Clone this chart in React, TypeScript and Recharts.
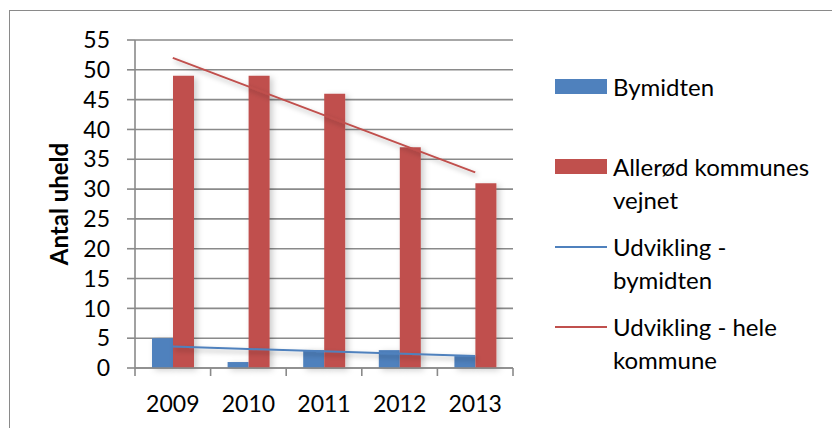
import { ComposedChart, Bar, Line, XAxis, YAxis, CartesianGrid, Legend } from 'recharts';

const years = ['2009', '2010', '2011', '2012', '2013'];
const bymidten = [5, 1, 3, 3, 2];
const vejnet = [49, 49, 46, 37, 31];
// trend lines: only the end points, drawn straight across with connectNulls
const trendBymidten = [3.6, null, null, null, 2.0];
const trendKommune = [52.0, null, null, null, 32.8];
const yTicks = [0, 5, 10, 15, 20, 25, 30, 35, 40, 45, 50, 55];

const BLUE = '#4f81bd';
const RED = '#c0504d';
const GRID = '#8a8a8a';
const FONT = 'Lato, "Open Sans", sans-serif';

const data = years.map((year, i) => ({
    year,
    bymidten: bymidten[i],
    vejnet: vejnet[i],
    trendBymidten: trendBymidten[i],
    trendKommune: trendKommune[i],
}));

const seriesOrder = ['bymidten', 'vejnet', 'trendBymidten', 'trendKommune'];

// year label under each category, with the tick marks on the category edges
const YearTick = (props: any) => {
    const { x, y, payload, index } = props;
    const half = payload?.offset ?? 37.8;
    return (
        <g>
            <line x1={x - half} x2={x - half} y1={y - 8} y2={y} stroke={GRID} strokeWidth={1.6} />
            {index === years.length - 1 && (
                <line x1={x + half} x2={x + half} y1={y - 8} y2={y} stroke={GRID} strokeWidth={1.6} />
            )}
            <text x={x} y={y + 36} textAnchor="middle" fontSize={23} fill="#000" fontFamily={FONT}>
                {payload.value}
            </text>
        </g>
    );
};

const LegendList = ({ payload }: any) => {
    const items = [...(payload ?? [])].sort(
        (a: any, b: any) => seriesOrder.indexOf(a.dataKey) - seriesOrder.indexOf(b.dataKey)
    );
    return (
        <div style={{ fontFamily: FONT, fontSize: 24, color: '#000' }}>
            {items.map((item: any) => (
                <div key={item.dataKey} style={{ display: 'flex', alignItems: 'flex-start', height: 80 }}>
                    <div style={{ width: 52, height: 33, display: 'flex', alignItems: 'center', marginRight: 6 }}>
                        {item.type === 'line' ? (
                            <div style={{ width: 52, height: 2, background: item.color }} />
                        ) : (
                            <div style={{ width: 52, height: 15, background: item.color }} />
                        )}
                    </div>
                    <div style={{ width: 204, lineHeight: '33px' }}>{item.value}</div>
                </div>
            ))}
        </div>
    );
};

export default function App() {
    return (
        <div style={{ position: 'absolute', left: 0, top: 0, width: 832, height: 428, overflow: 'hidden', background: '#fff' }}>
            {/* chart frame, only top and left edges fall inside the view */}
            <div
                style={{
                    position: 'absolute',
                    left: 9,
                    top: 10,
                    width: 840,
                    height: 440,
                    borderTop: `1.5px solid ${GRID}`,
                    borderLeft: `1.5px solid ${GRID}`,
                }}
            />
            <ComposedChart
                width={832}
                height={428}
                data={data}
                margin={{ top: 40, right: 319, bottom: 0, left: 0 }}
                barGap={0}
                barSize={21}
                style={{ position: 'absolute', left: 0, top: 0 }}
            >
                <defs>
                    <filter id="shade" filterUnits="userSpaceOnUse" x={0} y={0} width={832} height={428}>
                        <feDropShadow dx={2} dy={3} stdDeviation={2.5} floodColor="#000" floodOpacity={0.3} />
                    </filter>
                    <filter id="barShade" filterUnits="userSpaceOnUse" x={0} y={0} width={832} height={428}>
                        <feDropShadow dx={3} dy={2} stdDeviation={3} floodColor="#000" floodOpacity={0.2} />
                    </filter>
                </defs>
                <CartesianGrid vertical={false} stroke={GRID} strokeWidth={1.6} />
                <XAxis
                    dataKey="year"
                    height={60}
                    tickLine={false}
                    tickSize={8}
                    tickMargin={0}
                    axisLine={{ stroke: GRID, strokeWidth: 1.6 }}
                    tick={<YearTick />}
                    interval={0}
                />
                <YAxis
                    width={135}
                    domain={[0, 55]}
                    ticks={yTicks}
                    interval={0}
                    tickSize={8}
                    tickMargin={17}
                    axisLine={{ stroke: GRID, strokeWidth: 1.6 }}
                    tickLine={{ stroke: GRID, strokeWidth: 1.6 }}
                    tick={{ fill: '#000', fontSize: 23, fontFamily: FONT }}
                    label={{
                        value: 'Antal uheld',
                        angle: -90,
                        position: 'center',
                        dx: -8,
                        style: { fontWeight: 700, fontSize: 24, fill: '#000', fontFamily: FONT },
                    }}
                />
                <Bar dataKey="bymidten" name="Bymidten" fill={BLUE} filter="url(#barShade)" isAnimationActive={false} />
                <Bar dataKey="vejnet" name="Allerød kommunes vejnet" fill={RED} filter="url(#barShade)" isAnimationActive={false} />
                <Line
                    dataKey="trendBymidten"
                    name="Udvikling - bymidten"
                    stroke={BLUE}
                    strokeWidth={2}
                    dot={false}
                    connectNulls
                    filter="url(#shade)"
                    legendType="line"
                    isAnimationActive={false}
                />
                <Line
                    dataKey="trendKommune"
                    name="Udvikling - hele kommune"
                    stroke={RED}
                    strokeWidth={2}
                    dot={false}
                    connectNulls
                    filter="url(#shade)"
                    legendType="line"
                    isAnimationActive={false}
                />
                <Legend
                    layout="vertical"
                    align="center"
                    verticalAlign="middle"
                    wrapperStyle={{ left: 555, top: 70, width: 270 }}
                    content={<LegendList />}
                />
            </ComposedChart>
        </div>
    );
}
